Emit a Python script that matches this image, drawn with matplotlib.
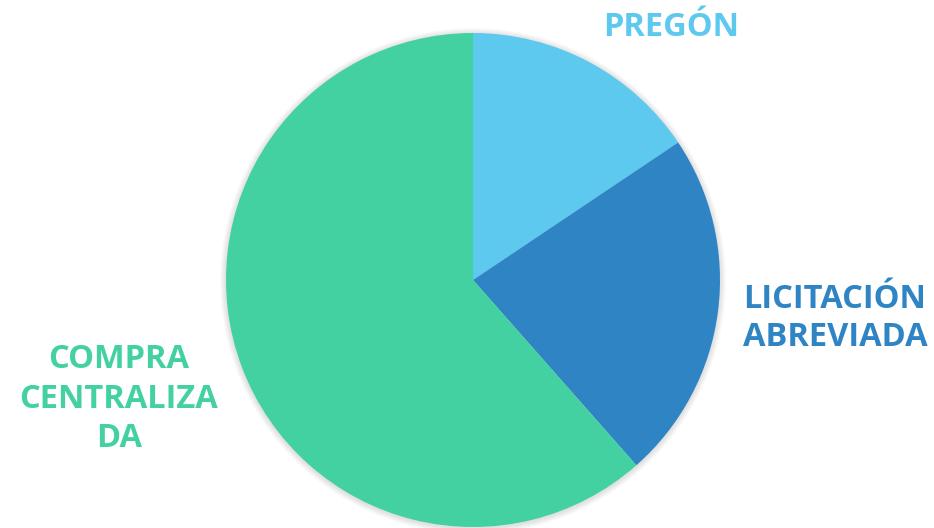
import matplotlib.pyplot as plt
from matplotlib.patches import Circle

# slice data (clockwise from top)
labels = ["PREGÓN", "LICITACIÓN\nABREVIADA", "COMPRA\nCENTRALIZA\nDA"]
values = [15.6, 22.9, 61.5]
colors = ["#5DC9EE", "#2F84C4", "#43D1A2"]

plt.rcParams['font.family'] = ['Open Sans', 'DejaVu Sans']

fig = plt.figure(figsize=(9.34, 5.28), dpi=100)
# pie centre ~ (473, 280) px, radius ~247 px
ax = fig.add_axes([226 / 934, 33 / 528 - 0 / 528, 494 / 934, 494 / 528])
ax.set_position([226 / 934, (528 - 280 - 247) / 528, 494 / 934, 494 / 528])

# soft shadow around the pie
for i in range(6):
    r = 1.0 + 0.004 * (i + 1)
    ax.add_patch(Circle((0.0, -0.004), r, color='black', alpha=0.02,
                        lw=0, zorder=0, clip_on=False))

ax.pie(values, colors=colors, startangle=90, counterclock=False,
       radius=1.0, wedgeprops=dict(linewidth=0))
ax.set_xlim(-1, 1)
ax.set_ylim(-1, 1)
ax.set_aspect('equal')
ax.axis('off')

fig.text(671 / 934, 1 - 28 / 528, labels[0], color=colors[0], fontsize=23.5,
         fontweight='bold', ha='center', va='center')
fig.text(743 / 934, 1 - 318 / 528, labels[1], color=colors[1], fontsize=23.5,
         fontweight='bold', ha='left', va='center', linespacing=1.2)
fig.text(119 / 934, 1 - 399 / 528, labels[2], color=colors[2], fontsize=23.5,
         fontweight='bold', ha='center', va='center', linespacing=1.25)

fig.savefig('out.png', dpi=100)
